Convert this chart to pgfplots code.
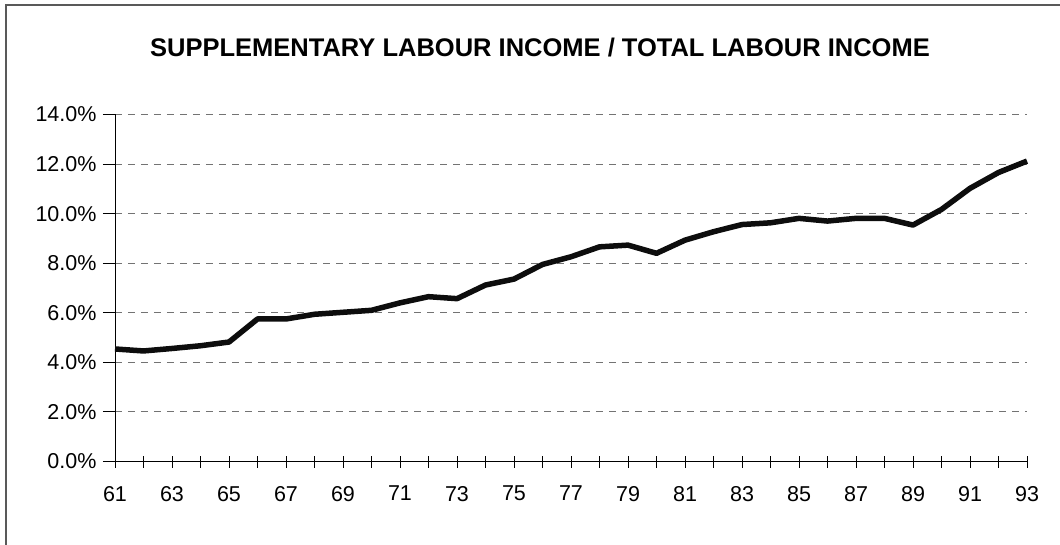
\documentclass[border=0pt]{standalone}
\usepackage{pgfplots}
\pgfplotsset{compat=1.18}
\usepackage{fontspec}
\setmainfont{Liberation Sans}

\begin{document}
\begin{tikzpicture}
\useasboundingbox (-115pt,-82.5pt) rectangle (945pt,461.5pt);
\draw[gray!70!black, line width=1.2pt] (-109pt,-90pt) -- (-109pt,456.5pt) -- (960pt,456.5pt);
\node[font=\fontsize{25.5}{30}\selectfont\bfseries] at (425pt,413.5pt)
  {SUPPLEMENTARY LABOUR INCOME / TOTAL LABOUR INCOME};
\begin{axis}[
    at={(0pt,0pt)}, anchor=origin,
    scale only axis,
    width=912pt, height=347pt,
    xmin=61, xmax=93, ymin=0, ymax=14,
    axis lines*=left,
    axis line style={black, line width=0.9pt},
    xtick={61,63,...,93},
    minor xtick={62,64,...,92},
    ytick={0,2,...,14},
    xtick align=center,
    ytick align=outside,
    major tick length=12pt,
    minor tick length=12pt,
    tick style={black, line width=0.9pt},
    minor tick style={black, line width=0.9pt},
    ymajorgrids,
    major grid style={gray!90!black, dash pattern=on 7pt off 6pt, line width=1pt},
    tick label style={font=\fontsize{21.5}{25}\selectfont},
    /pgf/number format/assume math mode=true,
    yticklabel={\pgfmathprintnumber[fixed, fixed zerofill, precision=1]{\tick}\%},
    yticklabel style={xshift=-3pt},
    xticklabel style={yshift=-15pt},
    clip=false,
]
\addplot[black!95, line width=5.5pt, line join=round] coordinates {
(61,4.54) (62,4.46) (63,4.56) (64,4.67) (65,4.82) (66,5.75) (67,5.75)
(68,5.94) (69,6.02) (70,6.10) (71,6.40) (72,6.65) (73,6.57) (74,7.12)
(75,7.36) (76,7.95) (77,8.26) (78,8.66) (79,8.73) (80,8.40) (81,8.93)
(82,9.27) (83,9.56) (84,9.63) (85,9.81) (86,9.70) (87,9.81) (88,9.81)
(89,9.54) (90,10.17) (91,11.02) (92,11.66) (93,12.12)
};
\end{axis}
\end{tikzpicture}
\end{document}
